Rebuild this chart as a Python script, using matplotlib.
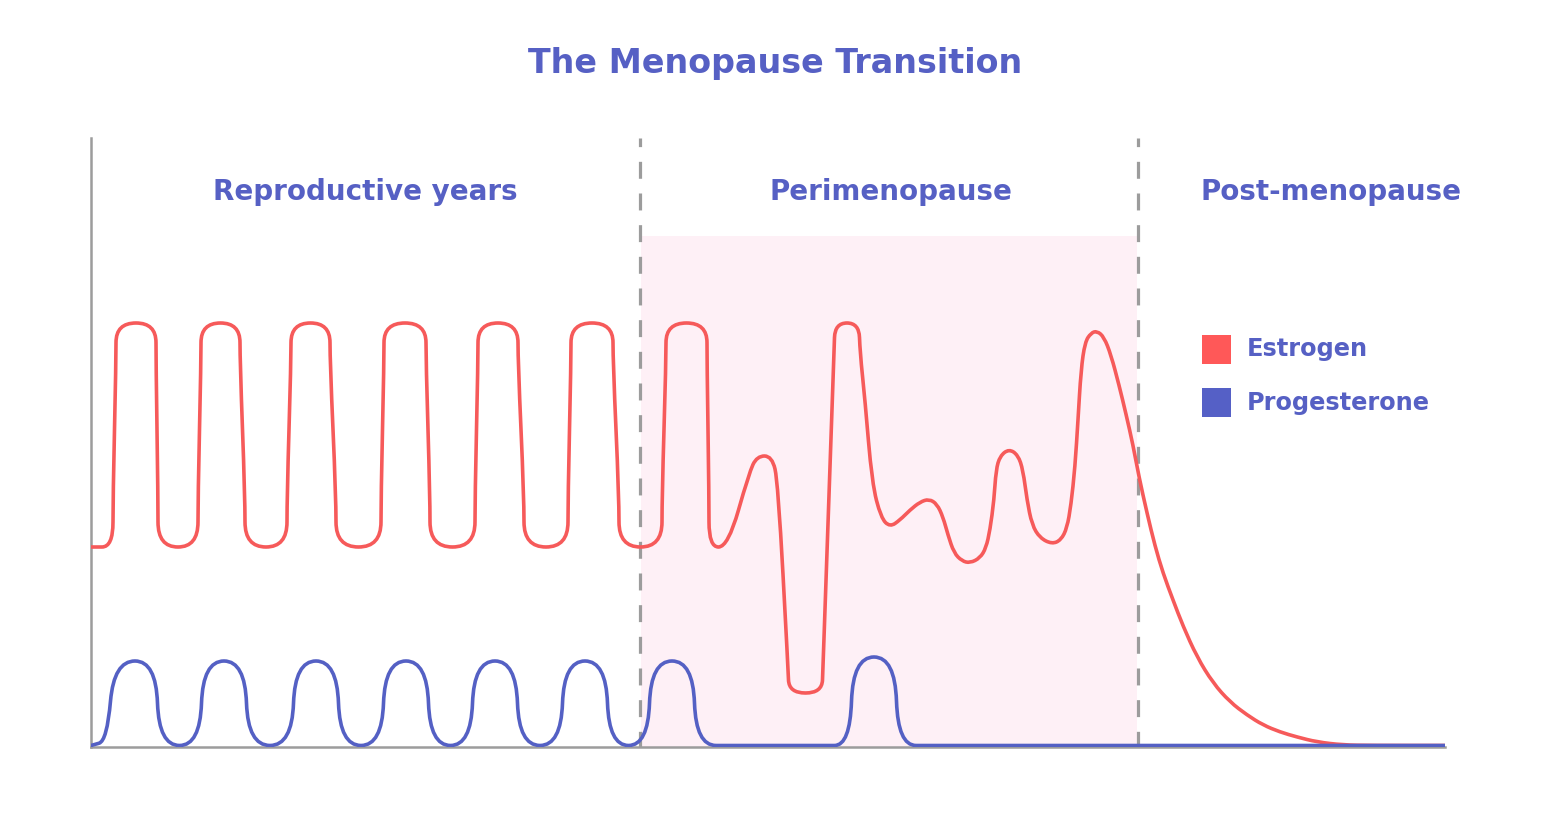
import numpy as np
import matplotlib
matplotlib.use("Agg")
import matplotlib.pyplot as plt
from matplotlib.path import Path
from matplotlib.patches import PathPatch, Rectangle

plt.rcParams['font.family'] = ['DejaVu Sans']
plt.rcParams['lines.scale_dashes'] = False

# control points (time units, hormone level)
estrogen_t = [0,
    22, 22, 25, 25, 65, 65, 67, 67,
    107, 107, 110, 110, 149, 149, 154, 154,
    196, 196, 200, 200, 239, 239, 245, 245,
    290, 290, 293, 293, 335, 335, 339, 339,
    384, 384, 387, 387, 427, 427, 433, 433,
    477, 477, 480, 480, 522, 522, 528, 528,
    571, 571, 575, 575, 616, 616, 618, 618,
    637, 658, 666, 681, 687, 697, 698, 731, 732, 743, 744, 768, 769,
    774, 781, 790, 799, 809, 819, 829, 838, 846, 852, 857, 863, 871, 879,
    889, 895, 899, 903, 905, 909, 918, 927, 932, 936, 941, 949, 961, 970,
    976, 980, 984, 987, 990, 994, 1000, 1006, 1013, 1020, 1028, 1035, 1042,
    1048, 1056, 1064, 1072, 1082, 1092, 1106, 1122, 1139, 1156, 1172, 1189,
    1206, 1226, 1252, 1280, 1354]
estrogen_lvl = [200,
    200, 250, 385, 424, 424, 385, 250, 200,
    200, 250, 385, 424, 424, 385, 250, 200,
    200, 250, 385, 424, 424, 385, 250, 200,
    200, 250, 385, 424, 424, 385, 250, 200,
    200, 250, 385, 424, 424, 385, 250, 200,
    200, 250, 385, 424, 424, 385, 250, 200,
    200, 250, 385, 424, 424, 385, 250, 200,
    200, 274, 291, 291, 265, 80, 54, 54, 80, 395, 424, 424, 395,
    347, 264, 229, 220, 227, 237, 245, 248, 243, 230, 212, 194, 186, 184,
    189, 199, 217, 247, 277, 291, 298, 292, 277, 247, 222, 209, 203, 207,
    219, 242, 280, 327, 377, 405, 414, 416, 410, 392, 362, 333, 302,
    270, 234, 201, 174, 147, 121, 90, 64, 45, 32, 22, 15,
    10, 5, 2, 1.5, 1.5]

progesterone_t = [0,
    16, 23, 65, 68,
    109, 112, 154, 157,
    201, 204, 246, 249,
    291, 294, 336, 339,
    380, 383, 425, 428,
    470, 473, 515, 518,
    557, 560, 602, 605, 645,
    728, 759, 762, 804, 807, 843,
    1354]
progesterone_lvl = [1.5,
    6, 86, 86, 1.5,
    1.5, 86, 86, 1.5,
    1.5, 86, 86, 1.5,
    1.5, 86, 86, 1.5,
    1.5, 86, 86, 1.5,
    1.5, 86, 86, 1.5,
    1.5, 86, 86, 1.5, 1.5,
    1.5, 1.5, 90, 90, 1.5, 1.5,
    1.5]

phases = ['Reproductive years', 'Perimenopause', 'Post-menopause']
phase_bounds = [549, 1047]
phase_label_t = [274, 800, 1240]

RED = '#f65a5a'
BLUE = '#5460c4'
TXT = '#5660c4'
GREY = '#9c9c9c'


def smooth_path(xs, ys):
    # quadratic bezier through the midpoints of the control polygon
    pts = np.column_stack([xs, ys]).astype(float)
    verts = [pts[0], (pts[0] + pts[1]) / 2]
    codes = [Path.MOVETO, Path.LINETO]
    for i in range(1, len(pts) - 1):
        verts += [pts[i], (pts[i] + pts[i + 1]) / 2]
        codes += [Path.CURVE3, Path.CURVE3]
    verts.append(pts[-1])
    codes.append(Path.LINETO)
    return Path(verts, codes)


fig = plt.figure(figsize=(15.52, 8.16), dpi=100)
ax = fig.add_axes([91 / 1552, 69 / 816, 1354 / 1552, 609 / 816])
ax.set_xlim(0, 1354)
ax.set_ylim(0, 609)

# perimenopause shading
ax.add_patch(Rectangle((phase_bounds[0] + 1, 0), phase_bounds[1] - phase_bounds[0] - 2, 511,
                       facecolor='#fef0f6', edgecolor='none', zorder=0))

for b in phase_bounds:
    ax.plot([b, b], [609, 0], color=GREY, lw=2.3, linestyle=(6, (12.2, 10.6)),
            zorder=1, solid_capstyle='butt', clip_on=False)

ax.add_patch(PathPatch(smooth_path(estrogen_t, estrogen_lvl), fill=False,
                       edgecolor=RED, lw=2.6, capstyle='round', joinstyle='round', zorder=3))
ax.add_patch(PathPatch(smooth_path(progesterone_t, progesterone_lvl), fill=False,
                       edgecolor=BLUE, lw=2.6, capstyle='round', joinstyle='round', zorder=4))

for s in ['top', 'right']:
    ax.spines[s].set_visible(False)
for s in ['left', 'bottom']:
    ax.spines[s].set_color(GREY)
    ax.spines[s].set_linewidth(1.8)
    ax.spines[s].set_zorder(2)
ax.set_xticks([])
ax.set_yticks([])
ax.patch.set_alpha(0)

for name, t in zip(phases, phase_label_t):
    ax.text(t, 555, name, ha='center', va='center', fontsize=20, fontweight='bold', color=TXT)

fig.text(775 / 1552, 1 - 63 / 816, 'The Menopause Transition', ha='center', va='center',
         fontsize=24, fontweight='bold', color=TXT)

# legend
legend_items = [('Estrogen', '#ff5858', 349), ('Progesterone', '#5560c6', 403)]
for label, col, py in legend_items:
    fig.patches.append(Rectangle((1202 / 1552, 1 - (py + 14.5) / 816), 29 / 1552, 29 / 816,
                                 transform=fig.transFigure, facecolor=col, edgecolor='none'))
    fig.text(1247 / 1552, 1 - py / 816, label, ha='left', va='center',
             fontsize=17.3, fontweight='bold', color=TXT)

fig.savefig('out.png', dpi=100)
